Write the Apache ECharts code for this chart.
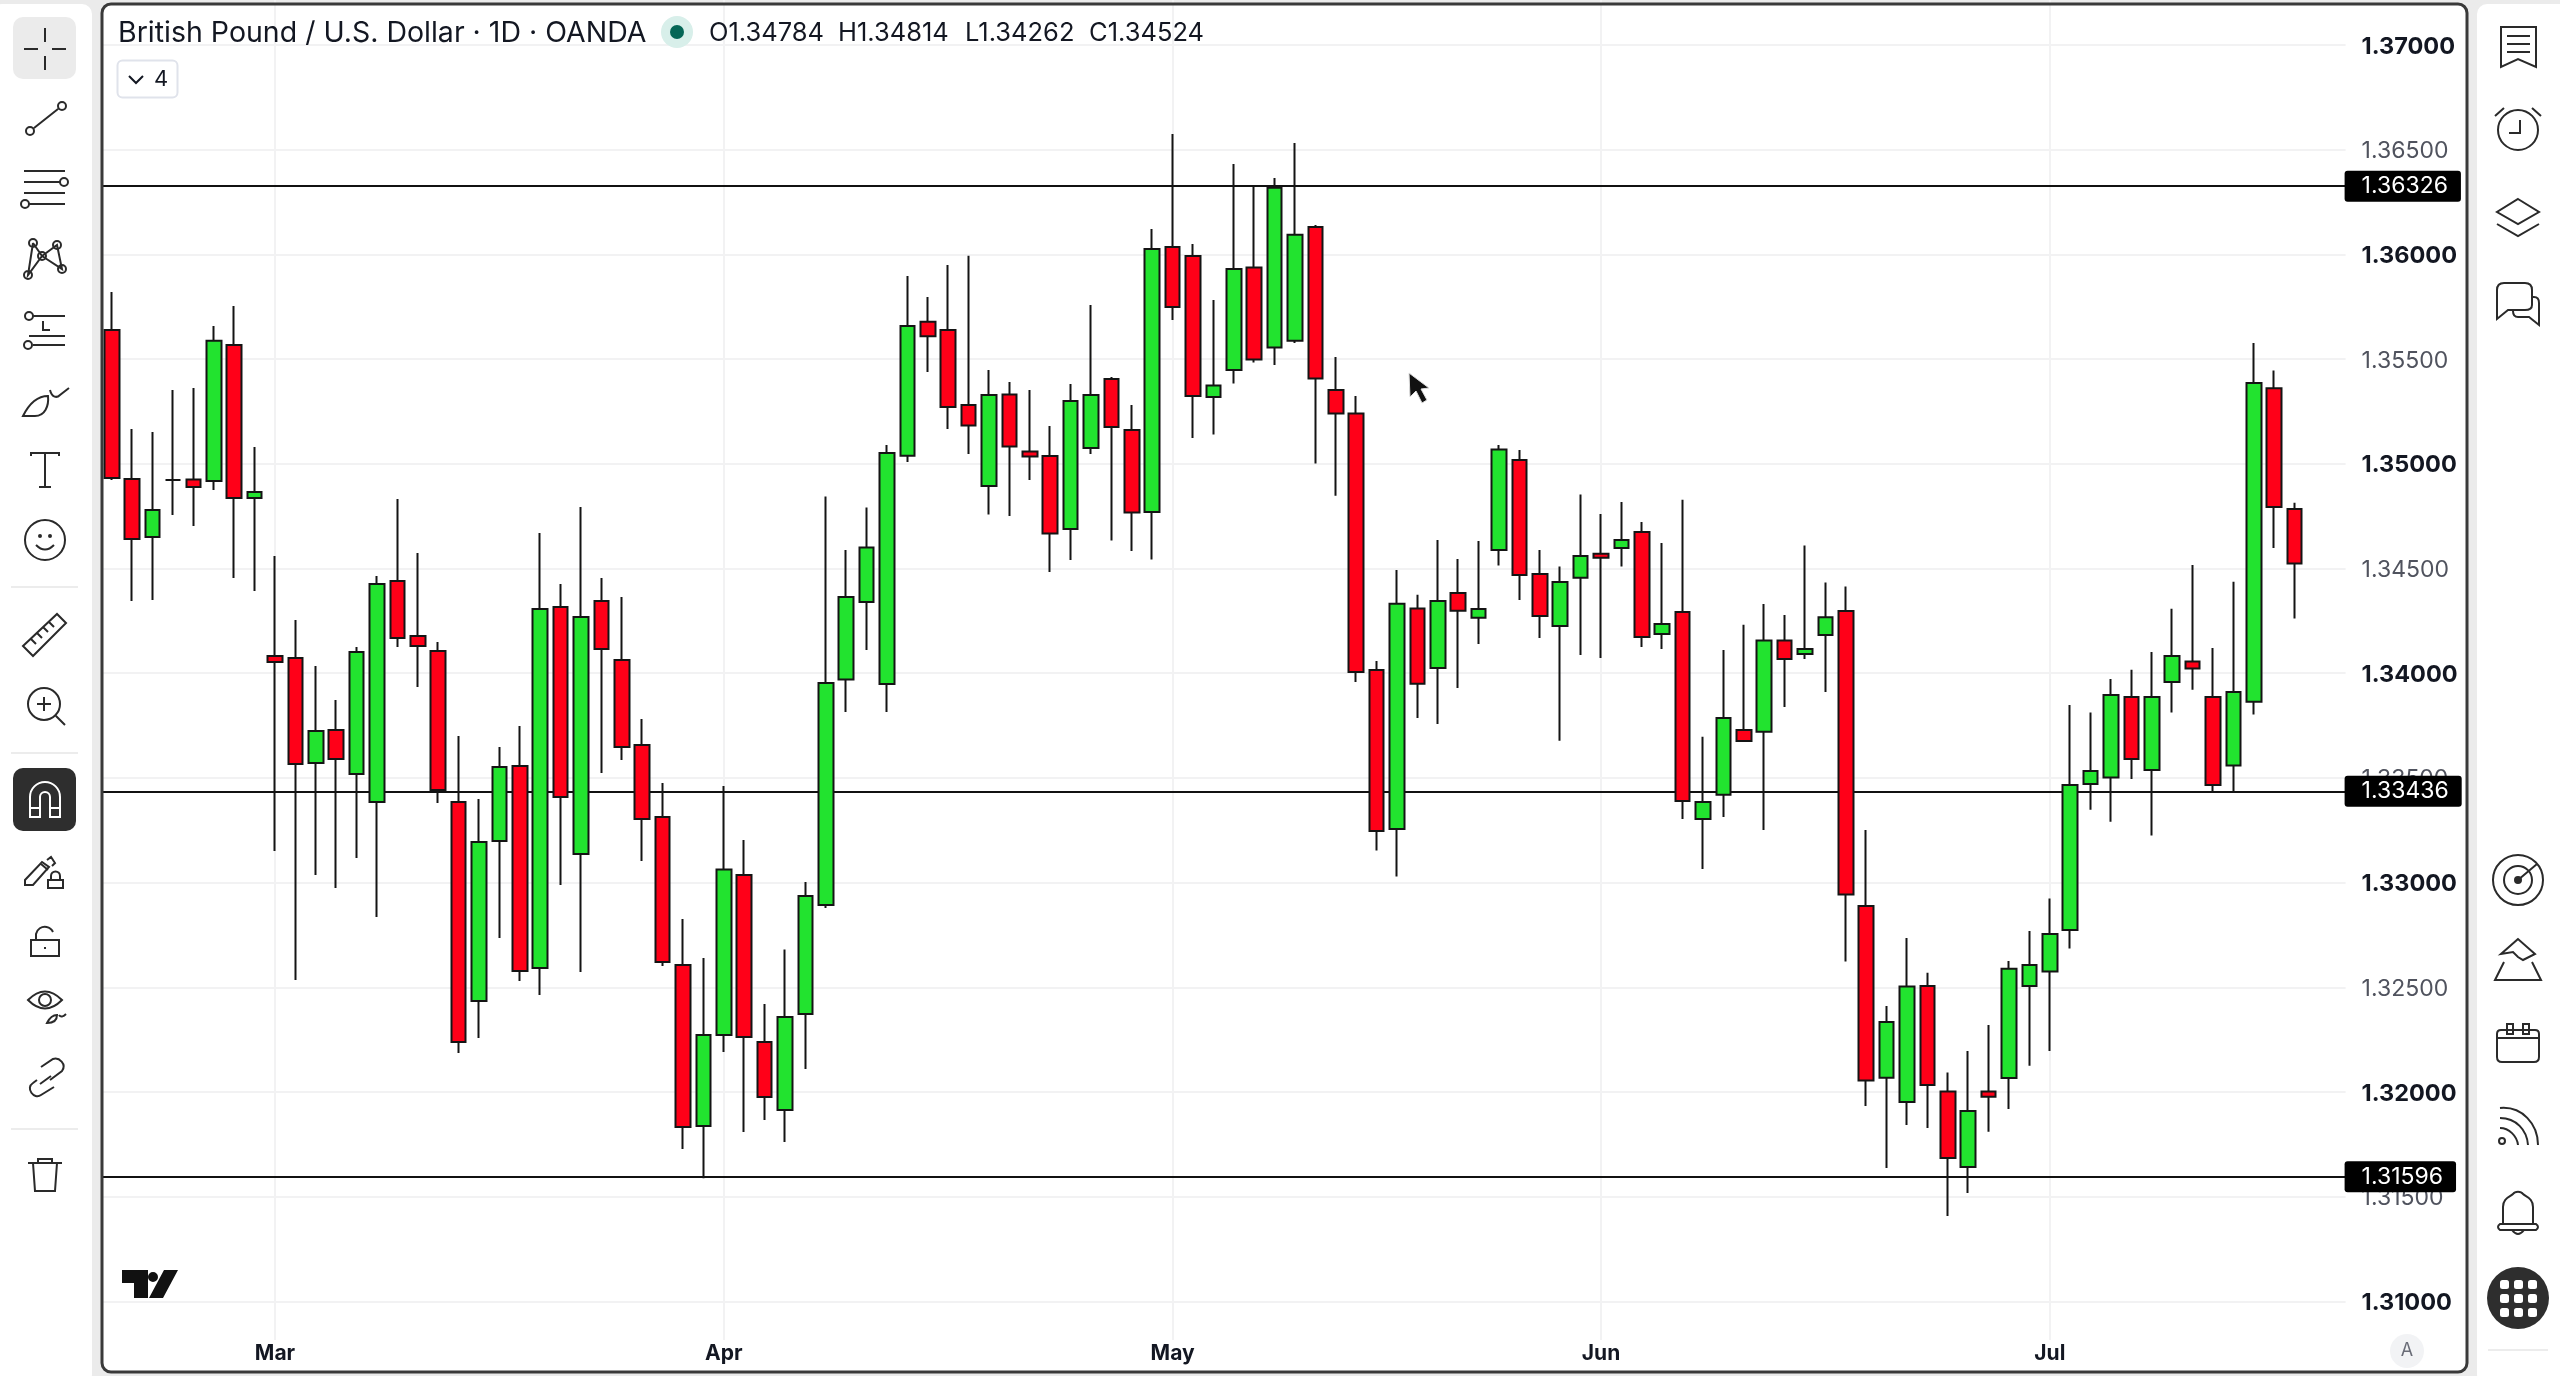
<!DOCTYPE html>
<html>
<head>
<meta charset="utf-8">
<title>GBP/USD</title>
<style>
html,body{margin:0;padding:0;background:#ebebeb;}
#chart{width:2560px;height:1376px;}
</style>
<script src="https://cdn.jsdelivr.net/npm/echarts@6/dist/echarts.min.js"></script>
</head>
<body>
<div id="chart"></div>
<script>
const opens = [
	1.35639,1.34928,1.34651,1.34923,1.34925,1.34918,1.35567,1.34837,1.34082,1.34073,
	1.33571,1.33729,1.33519,1.33385,1.34440,1.34178,1.34106,1.33385,1.32435,1.33199,
	1.33557,1.32592,1.34316,1.33137,1.34345,1.34063,1.33657,1.33313,1.32607,1.31838,
	1.32272,1.33036,1.32239,1.31914,1.32373,1.32893,1.33970,1.34340,1.33949,1.35039,
	1.35679,1.35639,1.35281,1.34894,1.35331,1.35059,1.35037,1.34689,1.35076,1.35405,
	1.35162,1.34770,1.36035,1.35992,1.35319,1.35448,1.35937,1.35555,1.35588,1.36131,
	1.35353,1.35240,1.34015,1.33256,1.34309,1.34025,1.34383,1.34265,1.34588,1.35018,
	1.34474,1.34226,1.34456,1.34571,1.34598,1.34674,1.34187,1.34292,1.33304,1.33420,
	1.33729,1.33721,1.34156,1.34092,1.34183,1.34297,1.32888,1.32068,1.31952,1.32506,
	1.32003,1.31642,1.32003,1.32067,1.32506,1.32576,1.32774,1.33471,1.33502,1.33886,
	1.33538,1.33958,1.34056,1.33886,1.33559,1.33864,1.35361,1.34784
];
const closes = [
	1.34932,1.34641,1.34779,1.34923,1.34889,1.35588,1.34837,1.34865,1.34054,1.33567,
	1.33724,1.33590,1.34101,1.34426,1.34168,1.34130,1.33442,1.32239,1.33194,1.33552,
	1.32578,1.34307,1.33409,1.34269,1.34116,1.33648,1.33304,1.32621,1.31833,1.32272,
	1.33063,1.32263,1.31976,1.32358,1.32936,1.33953,1.34364,1.34600,1.35052,1.35658,
	1.35609,1.35271,1.35183,1.35329,1.35083,1.35035,1.34667,1.35300,1.35329,1.35176,
	1.34768,1.36026,1.35749,1.35324,1.35374,1.35930,1.35498,1.36319,1.36094,1.35407,
	1.35240,1.34006,1.33247,1.34332,1.33950,1.34345,1.34299,1.34307,1.35068,1.34469,
	1.34273,1.34436,1.34560,1.34552,1.34636,1.34173,1.34235,1.33390,1.33385,1.33786,
	1.33676,1.34156,1.34068,1.34116,1.34267,1.32943,1.32055,1.32334,1.32504,1.32034,
	1.31685,1.31909,1.31978,1.32589,1.32607,1.32755,1.33466,1.33533,1.33896,1.33590,
	1.33886,1.34082,1.34023,1.33466,1.33910,1.35386,1.34794,1.34524
];
const highs = [
	1.35821,1.35166,1.35152,1.35353,1.35362,1.35658,1.35754,1.35080,1.34560,1.34254,
	1.34035,1.33872,1.34125,1.34464,1.34832,1.34574,1.34149,1.33700,1.33399,1.33648,
	1.33748,1.34670,1.34426,1.34794,1.34455,1.34364,1.33781,1.33476,1.32826,1.32640,
	1.33461,1.33204,1.32420,1.32681,1.33003,1.34844,1.34588,1.34791,1.35090,1.35897,
	1.35797,1.35949,1.35994,1.35448,1.35391,1.35353,1.35181,1.35381,1.35758,1.35415,
	1.35281,1.36121,1.36575,1.36050,1.35782,1.36432,1.36322,1.36365,1.36532,1.36141,
	1.35510,1.35324,1.34058,1.34493,1.34375,1.34636,1.34545,1.34631,1.35090,1.35066,
	1.34588,1.34510,1.34853,1.34760,1.34818,1.34722,1.34622,1.34829,1.33697,1.34111,
	1.34232,1.34331,1.34278,1.34610,1.34433,1.34414,1.33251,1.32411,1.32736,1.32570,
	1.32093,1.32196,1.32320,1.32626,1.32769,1.32924,1.33848,1.33812,1.33973,1.34017,
	1.34101,1.34308,1.34517,1.34120,1.34437,1.35577,1.35446,1.34814
];
const lows = [
	1.34923,1.34345,1.34350,1.34756,1.34703,1.34875,1.34455,1.34393,1.33151,1.32535,
	1.33036,1.32974,1.33118,1.32836,1.34125,1.33934,1.33380,1.32186,1.32258,1.32736,
	1.32530,1.32463,1.32989,1.32573,1.33524,1.33586,1.33103,1.32602,1.31728,1.31589,
	1.32191,1.31809,1.31866,1.31761,1.32110,1.32879,1.33815,1.34111,1.33815,1.35009,
	1.35439,1.35166,1.35047,1.34758,1.34751,1.34923,1.34483,1.34541,1.35047,1.34634,
	1.34584,1.34543,1.35687,1.35123,1.35140,1.35384,1.35484,1.35472,1.35577,1.35002,
	1.34848,1.33958,1.33153,1.33029,1.33786,1.33758,1.33929,1.34140,1.34514,1.34350,
	1.34168,1.33678,1.34087,1.34073,1.34510,1.34125,1.34116,1.33304,1.33065,1.33313,
	1.33676,1.33251,1.33839,1.34068,1.33910,1.32623,1.31933,1.31637,1.31843,1.31828,
	1.31408,1.31518,1.31811,1.31919,1.32126,1.32196,1.32685,1.33348,1.33291,1.33495,
	1.33225,1.33812,1.33921,1.33428,1.33428,1.33803,1.34598,1.34262
];
const monthNames = ['Mar','Apr','May','Jun','Jul'];
const monthIndex = [8,30,52,73,95];
const priceTicks = [1.31,1.315,1.32,1.325,1.33,1.335,1.34,1.345,1.35,1.355,1.36,1.365,1.37];
const levels = [1.36326,1.33436,1.31596];

const slots = 110;
const categories = [];
for (let i = 0; i < slots; i++) {
	const m = monthIndex.indexOf(i);
	categories.push(m >= 0 ? monthNames[m] : '');
}
const candles = opens.map((o, i) => [o, closes[i], lows[i], highs[i]]);

const FONT = 'Inter, "Noto Sans", sans-serif';
const INK = '#2a2a2a';

// c() : a circle as svg path, used by the toolbar icons
function c(x, y, r) {
	return 'M' + (x - r) + ' ' + y + 'a' + r + ' ' + r + ' 0 1 0 ' + (2 * r) + ' 0a' + r + ' ' + r + ' 0 1 0 ' + (-2 * r) + ' 0';
}
// the graphic component has no plain path type, so each icon is registered as a shape
let iconCount = 0;
function icon(x, y, path, color, fill, lineWidth) {
	const name = 'tvIcon' + (iconCount++);
	echarts.graphic.registerShape(name, echarts.graphic.extendPath(path));
	return {
		type: name, x: x, y: y, z: 20, silent: true,
		style: { fill: fill || 'none', stroke: color || INK, lineWidth: lineWidth === undefined ? 2 : lineWidth }
	};
}
function rect(x, y, w, h, r, fill, z, stroke, lineWidth) {
	return {
		type: 'rect', z: z, silent: true,
		shape: { x: x, y: y, width: w, height: h, r: r },
		style: { fill: fill, stroke: stroke || null, lineWidth: lineWidth || 0 }
	};
}
function label(x, y, text, size, color, align, weight) {
	return {
		type: 'text', x: x, y: y, z: 21, silent: true,
		style: {
			text: text, fill: color, align: align || 'left', verticalAlign: 'middle',
			fontFamily: FONT, fontSize: size, fontWeight: weight || 400
		}
	};
}

const last = opens.length - 1;

const leftX = 45, rightX = 2518;
const decor = [
	// panels
	rect(-8, 4, 100, 1380, 10, '#ffffff', -5),
	rect(2477, 4, 100, 1380, 10, '#ffffff', -5),
	rect(102, 4, 2365, 1368, 9, '#ffffff', -5),
	rect(102, 4, 2365, 1368, 9, 'none', 30, '#3a3a3a', 3),
	// separators
	rect(11, 586, 67, 2, 0, '#ececec', 1),
	rect(11, 752, 67, 2, 0, '#ececec', 1),
	rect(11, 1128, 67, 2, 0, '#ececec', 1),
	rect(2488, 1349, 60, 2, 0, '#ececec', 1),
	// header
	label(118, 33, 'British Pound / U.S. Dollar · 1D · OANDA', 28.5, '#131722'),
	{ type: 'circle', z: 20, silent: true, shape: { cx: 677, cy: 32, r: 16 }, style: { fill: '#d8efea' } },
	{ type: 'circle', z: 21, silent: true, shape: { cx: 677, cy: 32, r: 7 }, style: { fill: '#056656' } },
	label(709, 33, 'O' + opens[last].toFixed(5), 25.5, '#131722'),
	label(838, 33, 'H' + highs[last].toFixed(5), 25.5, '#131722'),
	label(965, 33, 'L' + lows[last].toFixed(5), 25.5, '#131722'),
	label(1089, 33, 'C' + closes[last].toFixed(5), 25.5, '#131722'),
	rect(117.5, 60.5, 60, 37, 5, '#ffffff', 20, '#e0e3eb', 2),
	icon(136, 79, 'M-7 -3L0 4L7 -3', '#131722'),
	label(161, 79, '4', 22, '#131722', 'center'),
	// logo
	icon(0, 0, 'M122 1270H148V1298H134V1283H122Z M164 1270H178L163 1298H149Z ' + c(153, 1277, 5), '#111', '#111', 0),
	// pointer
	icon(0, 0, 'M1409 373L1410 397L1416 391L1422 403L1427 400L1421 389L1429 388Z', '#dddddd', '#111111', 1),
	// auto button
	{ type: 'circle', z: 20, silent: true, shape: { cx: 2407, cy: 1351, r: 17 }, style: { fill: '#f2f3f5' } },
	label(2407, 1351, 'A', 18, '#6a6d78', 'center'),

	// left toolbar
	rect(13, 17, 63, 62, 10, '#ebebeb', 1),
	icon(leftX, 49, 'M-21 0H-7M7 0H21M0 -21V-7M0 7V21'),
	icon(leftX, 118, 'M-11 10L13 -9' + c(-15, 13, 4) + c(17, -12, 4)),
	icon(leftX, 188, 'M-21 -17H20M-21 -6H15M-21 5H20M-16 16H20' + c(19, -6, 4) + c(-20, 16, 4)),
	icon(leftX, 258, 'M-12 -15L-17 17L-3 -2L-12 -15M-3 -2L12 -13L17 11L-3 -2M-17 17L-3 -2' + c(-12, -15, 4) + c(12, -13, 4) + c(-3, -2, 4) + c(17, 11, 4) + c(-17, 17, 4)),
	icon(leftX, 330, 'M-12 -14H20M-16 6H20M-12 15H20M-2 -9V0H5' + c(-16, -14, 4) + c(-17, 15, 4)),
	icon(leftX, 402, 'M-22 14C-16 2 -8 -6 3 -6C4 4 0 14 -10 14ZM5 -12C7 -4 12 -4 15 -7L24 -14'),
	icon(leftX, 470, 'M-14 -14V-17H14V-14M0 -17V17M-6 17H6'),
	icon(leftX, 540, c(0, 0, 20) + 'M-9 5Q0 14 9 5' + c(-5, -4, 1) + c(5, -4, 1)),
	icon(leftX, 635, 'M-22 11L12 -21L21 -12L-12 21ZM-14 4L-9 9M-8 -2L-3 3M-2 -8L3 -3M4 -13L9 -8'),
	icon(leftX, 705, c(-1, -1, 16) + 'M11 11L20 20M-8 -1H6M-1 -8V6'),
	rect(13, 768, 63, 63, 10, '#2e2e2e', 1),
	icon(leftX, 800, 'M-15 17V-3A15 15 0 0 1 15 -3V17H5V-3A5 5 0 0 0 -5 -3V17ZM-15 8H-5M5 8H15', '#ffffff'),
	icon(leftX, 872, 'M-20 8L-3 -10L4 -5L-12 13H-20ZM-4 -8L3 -2M2 -12L6 -15L10 -9L7 -6M3 10V16H18V8H3ZM6 8V4A4.5 4.5 0 0 1 15 4V8'),
	icon(leftX, 942, 'M-14 -2H14V14H-14ZM-9 -2V-8A9 9 0 0 1 8 -10M0 5V7'),
	icon(leftX, 1007, 'M-17 -7Q0 -24 17 -7Q0 10 -17 -7Z' + c(0, -7, 6) + 'M2 16C6 8 10 8 12 8C12 14 8 16 2 16ZM14 8C16 11 19 9 21 7'),
	icon(leftX, 1081, 'M-4 -14L8 -22C14 -24 22 -17 17 -10L5 -1M-8 -1L-12 2C-20 7 -11 19 -4 14L9 6M-5 3L6 -5'),
	icon(leftX, 1176, 'M-17 -13H17M-12 -13L-10 15H10L12 -13M-7 -13V-17H7V-13'),

	// right toolbar
	icon(rightX, 47, 'M-17 -20H18V20L0 12L-17 20ZM-11 -11H12M-11 -3H12M-11 5H12'),
	icon(rightX, 130, c(0, 0, 20) + 'M2 -10V3H-9M-23 -14L-14 -22M23 -14L14 -22'),
	icon(rightX, 216, 'M0 -17L21 -4L0 8L-21 -4ZM-21 8L0 20L21 8'),
	icon(rightX, 303, 'M-21 -13Q-21 -20 -14 -20H7Q14 -20 14 -13V2Q14 7 7 7H-10L-21 16ZM14 -6H16Q21 -6 21 0V22L11 14H0Q-5 14 -5 8'),
	icon(rightX, 880, c(0, 0, 25) + c(0, 0, 14) + 'M0 0L19 -16'),
	icon(rightX, 880, c(0, 0, 3), INK, INK),
	icon(rightX, 960, 'M0 -21L-17 -6L-5 -8L0 -3L5 0L17 -6ZM-14 2L-23 20H23L14 2'),
	icon(rightX, 1044, 'M-17 -14H-8M8 -14H17Q21 -14 21 -10V13Q21 18 16 18H-16Q-21 18 -21 13V-10Q-21 -14 -17 -14ZM-21 -6H21M-8 -14H8M-11 -20H-5V-10H-11ZM5 -20H11V-10H5Z'),
	icon(rightX, 1126, 'M-18 -18C4 -20 20 -2 20 19M-18 -8C-2 -8 9 4 10 19M-18 2C-9 2 -1 10 0 19' + c(-16, 15, 3)),
	icon(rightX, 1212, 'M-15 12V-5C-15 -14 -8 -15 -5 -18C-3 -21 3 -21 5 -18C8 -15 15 -14 15 -5V12M-18 12H18Q22 15 18 18H-18Q-22 15 -18 12ZM-6 18Q0 26 6 18'),
	{ type: 'circle', z: 20, silent: true, shape: { cx: rightX, cy: 1298, r: 31 }, style: { fill: '#2e2e2e' } }
];
// the nine dots of the apps button
[-14, 0, 14].forEach(function (dx) {
	[-14, 0, 14].forEach(function (dy) {
		decor.push(rect(rightX + dx - 4, 1298 + dy - 4, 9, 9, 2.5, '#ffffff', 21));
	});
});

const myChart = echarts.init(document.getElementById('chart'));
myChart.setOption({
	animation: false,
	backgroundColor: '#ebebeb',
	graphic: { elements: decor },
	grid: { left: 101.6, top: 0, width: 2244, height: 1340 },
	xAxis: {
		type: 'category',
		data: categories,
		boundaryGap: true,
		axisLine: { show: false },
		axisTick: { show: false },
		axisLabel: {
			interval: 0,
			margin: 2,
			color: '#131722',
			fontFamily: FONT,
			fontSize: 21,
			fontWeight: 700,
			lineHeight: 24,
			verticalAlign: 'top'
		},
		splitLine: {
			show: true,
			alignWithLabel: true,
			interval: function (i) { return monthIndex.indexOf(i) >= 0; },
			lineStyle: { color: '#f2f2f3', width: 2 }
		}
	},
	yAxis: {
		type: 'value',
		position: 'right',
		min: 1.30816,
		max: 1.37215,
		scale: true,
		axisLine: { show: false },
		axisTick: { show: false, customValues: priceTicks },
		axisLabel: {
			customValues: priceTicks,
			margin: 16,
			showMinLabel: true,
			showMaxLabel: true,
			formatter: function (v) {
				const bold = Math.round(v * 100000) % 1000 === 0;
				return (bold ? '{b|' : '{r|') + v.toFixed(5) + '}';
			},
			rich: {
				b: { fontFamily: FONT, fontSize: 23.5, fontWeight: 700, color: '#131722', padding: [3, 0, 0, 0] },
				r: { fontFamily: FONT, fontSize: 23, fontWeight: 400, color: '#50535e', padding: [3, 0, 0, 0] }
			}
		},
		splitLine: { show: true, lineStyle: { color: '#f2f2f3', width: 2 } }
	},
	series: [{
		type: 'candlestick',
		z: 3,
		data: candles,
		barWidth: 15,
		itemStyle: {
			color: '#22e32f',
			color0: '#ff0018',
			borderColor: '#141414',
			borderColor0: '#141414',
			borderColorDoji: '#141414',
			borderWidth: 2
		},
		markLine: {
			silent: true,
			z: 1,
			precision: 5,
			symbol: 'none',
			lineStyle: { color: '#111111', width: 2, type: 'solid' },
			label: {
				position: 'end',
				distance: -1,
				color: '#ffffff',
				backgroundColor: '#000000',
				borderRadius: 3,
				padding: [5, 13, 3, 17],
				fontFamily: FONT,
				fontSize: 23
			},
			data: levels.map(function (v) {
				return { yAxis: v, label: { formatter: v.toFixed(5) } };
			})
		}
	}]
});
</script>
</body>
</html>
